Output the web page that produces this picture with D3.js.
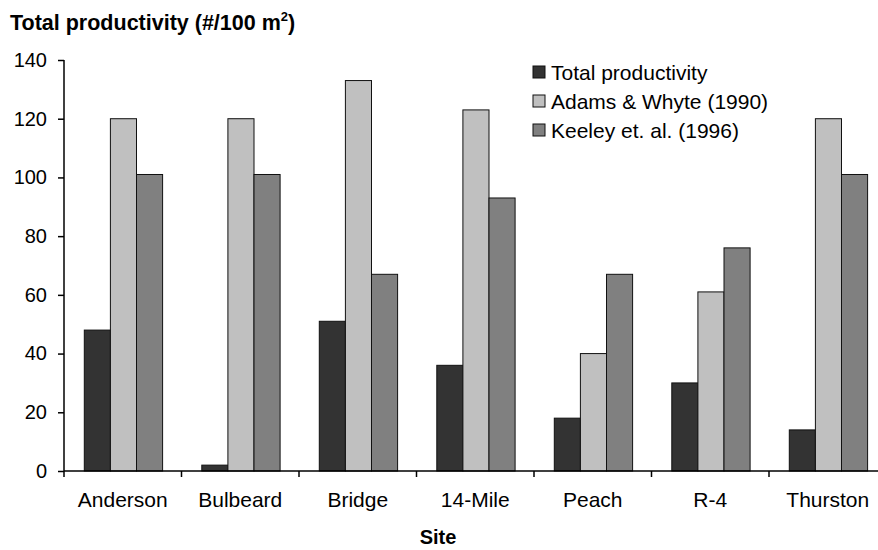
<!DOCTYPE html>
<html><head><meta charset="utf-8">
<script src="https://cdn.jsdelivr.net/npm/d3@7/dist/d3.min.js"></script>
<style>body{margin:0;background:#fff;} svg{display:block;font-family:Arial,"Liberation Sans",sans-serif;}</style>
</head><body>
<svg id="c" width="878" height="550"></svg>
<script>
const sites = ["Anderson","Bulbeard","Bridge","14-Mile","Peach","R-4","Thurston"];
const seriesNames = ["Total productivity","Adams & Whyte (1990)","Keeley et. al. (1996)"];
const totalProductivity = [48, 2, 51, 36, 18, 30, 14];
const adamsWhyte = [120, 120, 133, 123, 40, 61, 120];
const keeley = [101, 101, 67, 93, 67, 76, 101];
const yTicks = [0,20,40,60,80,100,120,140];
const colors = ["#333333","#c0c0c0","#808080"];

const series = [totalProductivity, adamsWhyte, keeley];
const svg = d3.select("#c");
const x0 = d3.scaleBand().domain(sites).range([64, 886.5]).paddingInner(0).paddingOuter(0);
const x1 = d3.scaleBand().domain(d3.range(3)).range([20.3, 20.3+78.3]);
const y = d3.scaleLinear().domain([0,140]).range([471, 60]);

// bars
sites.forEach((s,i)=>{
  series.forEach((vals,j)=>{
    svg.append("rect")
      .attr("x", x0(s)+x1(j)).attr("y", y(vals[i]))
      .attr("width", x1.bandwidth()).attr("height", y(0)-y(vals[i]))
      .attr("fill", colors[j]).attr("stroke", "#111").attr("stroke-width", 1);
  });
});

// y axis
const yAxis = svg.append("g").attr("transform","translate(64,0)")
  .call(d3.axisLeft(y).tickValues(yTicks).tickSize(6).tickPadding(11));
yAxis.select(".domain").attr("stroke","#000").attr("stroke-width",1.5).attr("d","M0,60V471");
yAxis.selectAll(".tick line").attr("stroke","#000").attr("stroke-width",1.5);
yAxis.selectAll("text").attr("font-size",20).attr("fill","#000").attr("font-family","Arial, 'Liberation Sans', sans-serif");

// x axis
svg.append("line").attr("x1",64).attr("x2",886.5).attr("y1",471).attr("y2",471).attr("stroke","#000").attr("stroke-width",1.5);
const bounds = sites.map(s=>x0(s)).concat([x0.range()[1]]);
bounds.forEach(b=>{
  svg.append("line").attr("x1",b).attr("x2",b).attr("y1",471).attr("y2",477).attr("stroke","#000").attr("stroke-width",1.5);
});
sites.forEach(s=>{
  svg.append("text").attr("x", x0(s)+x0.bandwidth()/2).attr("y", 507)
    .attr("text-anchor","middle").attr("font-size",21).attr("fill","#000").text(s);
});

// axis titles
const t = svg.append("text").attr("x",10).attr("y",30).attr("font-size",21.5).attr("font-weight","bold").attr("fill","#000");
t.append("tspan").text("Total productivity (#/100 m");
t.append("tspan").attr("font-size",13).attr("dy",-9).text("2");
t.append("tspan").attr("dy",9).text(")");
svg.append("text").attr("x",438).attr("y",544).attr("text-anchor","middle").attr("font-size",20).attr("font-weight","bold").attr("fill","#000").text("Site");

// legend
seriesNames.forEach((n,j)=>{
  const ly = 72 + j*29;
  svg.append("rect").attr("x",533).attr("y",ly-6).attr("width",12).attr("height",12)
    .attr("fill",colors[j]).attr("stroke","#111").attr("stroke-width",1);
  svg.append("text").attr("x",551).attr("y",ly+7.5).attr("font-size",21).attr("fill","#000").text(n);
});
</script>
</body></html>
